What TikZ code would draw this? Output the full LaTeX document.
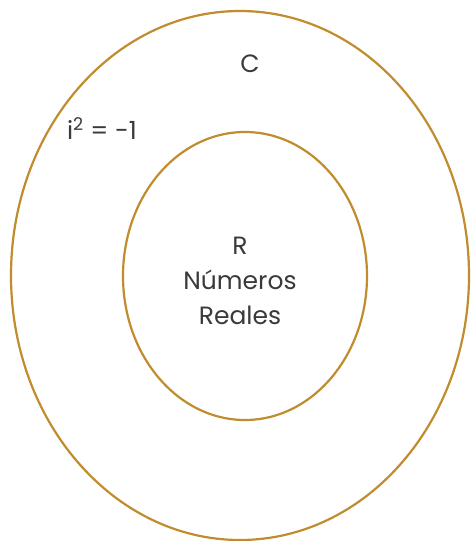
\documentclass[tikz,border=0pt]{standalone}
\usepackage{fontspec}
\setmainfont{Poppins}
\usepackage{tikz}
\usetikzlibrary{positioning,shapes.geometric}
\definecolor{setgold}{HTML}{C08C2E}
\definecolor{settext}{HTML}{3A3A3A}
\tikzset{
  setline/.style={draw=setgold, line width=2.2pt, ellipse, inner sep=0pt},
  setlabel/.style={text=settext, font=\fontsize{25}{35}\selectfont, align=center, inner sep=0pt},
}
\begin{document}
\begin{tikzpicture}[x=1pt, y=-1pt]
  \useasboundingbox (0,0) rectangle (471,541);
  % Sets
  \node[setline, minimum width=458pt, minimum height=529pt] at (240,275.5) (Cset) {};
  \node[setline, minimum width=244pt, minimum height=288pt] at (245,276) (Rset) {};
  % Labels
  \node[setlabel] at (250,64) (Clab) {C};
  \node[setlabel] at (102,129) (ilab) {i\textsuperscript{2} = -1};
  \node[setlabel] at (240,281) (Rlab) {R\\Números\\Reales};
\end{tikzpicture}
\end{document}
